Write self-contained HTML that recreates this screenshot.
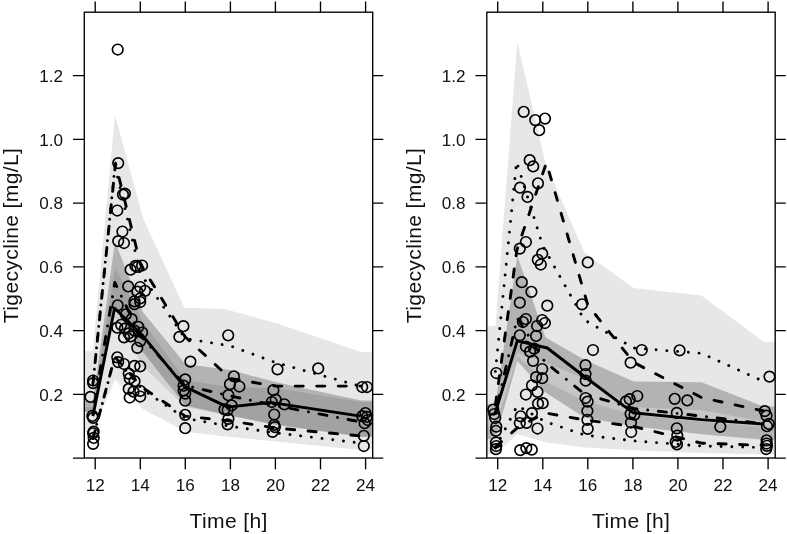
<!DOCTYPE html>
<html lang="en"><head><meta charset="utf-8"><title>Tigecycline VPC</title>
<style>html,body{margin:0;padding:0;background:#fff}body{width:787px;height:534px;overflow:hidden}</style></head>
<body>
<svg width="787" height="534" viewBox="0 0 787 534" style="display:block">
<rect width="787" height="534" fill="#fff"/>
<clipPath id="c0"><rect x="84.3" y="12.2" width="288.4" height="445.8"/></clipPath>
<g clip-path="url(#c0)">
<polygon points="83.9,350.7 92.9,350.7 115.0,114.9 143.0,218.1 184.4,307.7 224.7,309.0 276.6,323.3 361.1,352.0 374.6,352.0 374.6,436.0 361.1,436.0 275.4,424.7 230.4,415.8 185.3,407.1 142.5,365.7 115.0,317.9 92.9,411.9 83.9,411.9" fill="#000" fill-opacity="0.095"/>
<polygon points="83.9,407.1 92.9,407.1 115.0,266.9 142.5,321.1 185.3,380.1 230.4,387.2 275.4,388.1 361.1,402.0 374.6,402.0 374.6,449.9 361.1,449.9 275.4,441.4 230.4,437.1 185.3,431.7 142.5,408.7 115.0,379.4 92.9,432.0 83.9,432.0" fill="#000" fill-opacity="0.095"/>
<polygon points="83.9,400.8 92.9,400.8 115.0,241.4 142.5,311.5 185.3,364.0 230.4,370.0 275.4,382.1 361.1,400.6 374.6,400.6 374.6,437.1 361.1,437.1 275.4,424.7 230.4,415.8 185.3,405.6 142.5,351.4 115.0,307.7 92.9,411.9 83.9,411.9" fill="#000" fill-opacity="0.225"/>
<polyline points="92.9,416.1 114.6,308.3 142.5,335.4 184.2,386.4 227.7,407.1 270.0,402.4 360.6,416.1" fill="none" stroke="#000" stroke-width="2.9" stroke-linecap="butt" stroke-linejoin="round"/>
<polyline points="92.9,384.0 115.5,163.3 140.3,263.7 185.3,337.0 230.4,378.5 275.4,386.1 361.1,386.1" fill="none" stroke="#000" stroke-width="2.9" stroke-linecap="round" stroke-linejoin="round" stroke-dasharray="8.07 13.45" stroke-dashoffset="0"/>
<polyline points="92.9,438.6 114.8,356.8 142.5,387.7 185.3,416.1 230.4,421.0 275.4,428.0 358.8,435.8" fill="none" stroke="#000" stroke-width="2.9" stroke-linecap="round" stroke-linejoin="round" stroke-dasharray="8.07 13.45" stroke-dashoffset="0"/>
<polyline points="92.9,413.5 114.8,282.5 140.3,335.4 185.3,385.5 230.4,396.0 275.4,405.6 358.8,421.5" fill="none" stroke="#000" stroke-width="2.9" stroke-linecap="round" stroke-linejoin="round" stroke-dasharray="0.01 10.76 8.07 10.76" stroke-dashoffset="0"/>
<polyline points="92.9,384.0 115.0,166.2 140.3,273.3 185.3,338.6 230.4,345.9 275.4,362.5 361.1,386.4" fill="none" stroke="#000" stroke-width="2.9" stroke-linecap="round" stroke-linejoin="round" stroke-dasharray="0.01 10.76" stroke-dashoffset="6.725"/>
<polyline points="92.9,438.6 114.8,357.4 142.5,389.6 185.3,418.3 230.4,426.3 275.4,432.8 358.8,442.8" fill="none" stroke="#000" stroke-width="2.9" stroke-linecap="round" stroke-linejoin="round" stroke-dasharray="0.01 10.76" stroke-dashoffset="6.725"/>
<g fill="none" stroke="#000" stroke-width="1.65"><circle cx="117.7" cy="49.5" r="5.3"/><circle cx="118.2" cy="163.1" r="5.3"/><circle cx="123.0" cy="194.6" r="5.3"/><circle cx="124.9" cy="193.6" r="5.3"/><circle cx="117.3" cy="210.5" r="5.3"/><circle cx="122.4" cy="231.5" r="5.3"/><circle cx="118.2" cy="241.1" r="5.3"/><circle cx="124.0" cy="243.0" r="5.3"/><circle cx="130.6" cy="269.7" r="5.3"/><circle cx="135.4" cy="265.9" r="5.3"/><circle cx="137.3" cy="266.9" r="5.3"/><circle cx="142.1" cy="265.5" r="5.3"/><circle cx="128.2" cy="286.4" r="5.3"/><circle cx="140.2" cy="287.0" r="5.3"/><circle cx="137.3" cy="291.7" r="5.3"/><circle cx="145.0" cy="290.8" r="5.3"/><circle cx="140.2" cy="298.4" r="5.3"/><circle cx="134.5" cy="301.3" r="5.3"/><circle cx="117.7" cy="305.3" r="5.3"/><circle cx="134.5" cy="304.2" r="5.3"/><circle cx="140.2" cy="302.0" r="5.3"/><circle cx="125.9" cy="314.3" r="5.3"/><circle cx="131.6" cy="319.1" r="5.3"/><circle cx="117.3" cy="327.7" r="5.3"/><circle cx="121.1" cy="324.8" r="5.3"/><circle cx="124.9" cy="328.7" r="5.3"/><circle cx="124.0" cy="337.3" r="5.3"/><circle cx="128.7" cy="333.4" r="5.3"/><circle cx="130.6" cy="336.3" r="5.3"/><circle cx="134.5" cy="330.6" r="5.3"/><circle cx="138.3" cy="326.8" r="5.3"/><circle cx="142.1" cy="332.5" r="5.3"/><circle cx="140.2" cy="341.1" r="5.3"/><circle cx="137.3" cy="347.8" r="5.3"/><circle cx="117.3" cy="357.3" r="5.3"/><circle cx="118.2" cy="362.1" r="5.3"/><circle cx="124.0" cy="364.0" r="5.3"/><circle cx="134.5" cy="365.9" r="5.3"/><circle cx="140.2" cy="366.3" r="5.3"/><circle cx="128.7" cy="373.6" r="5.3"/><circle cx="129.7" cy="378.3" r="5.3"/><circle cx="134.5" cy="381.2" r="5.3"/><circle cx="128.7" cy="388.9" r="5.3"/><circle cx="133.5" cy="391.7" r="5.3"/><circle cx="140.2" cy="390.8" r="5.3"/><circle cx="129.7" cy="397.5" r="5.3"/><circle cx="140.2" cy="396.5" r="5.3"/><circle cx="93.1" cy="380.5" r="5.3"/><circle cx="93.1" cy="383.1" r="5.3"/><circle cx="90.5" cy="396.9" r="5.3"/><circle cx="92.4" cy="415.9" r="5.3"/><circle cx="93.1" cy="417.8" r="5.3"/><circle cx="93.7" cy="431.6" r="5.3"/><circle cx="93.1" cy="433.3" r="5.3"/><circle cx="93.7" cy="437.9" r="5.3"/><circle cx="93.1" cy="443.8" r="5.3"/><circle cx="183.4" cy="326.2" r="5.3"/><circle cx="179.4" cy="336.9" r="5.3"/><circle cx="190.4" cy="361.6" r="5.3"/><circle cx="185.2" cy="379.4" r="5.3"/><circle cx="183.6" cy="385.7" r="5.3"/><circle cx="183.6" cy="390.4" r="5.3"/><circle cx="185.2" cy="393.6" r="5.3"/><circle cx="185.2" cy="400.7" r="5.3"/><circle cx="185.2" cy="414.8" r="5.3"/><circle cx="185.2" cy="428.2" r="5.3"/><circle cx="228.2" cy="335.3" r="5.3"/><circle cx="233.9" cy="376.3" r="5.3"/><circle cx="230.0" cy="384.2" r="5.3"/><circle cx="239.4" cy="386.5" r="5.3"/><circle cx="228.4" cy="395.2" r="5.3"/><circle cx="231.6" cy="405.4" r="5.3"/><circle cx="224.5" cy="409.3" r="5.3"/><circle cx="227.6" cy="410.1" r="5.3"/><circle cx="228.4" cy="418.8" r="5.3"/><circle cx="227.6" cy="424.3" r="5.3"/><circle cx="277.5" cy="369.3" r="5.3"/><circle cx="273.4" cy="390.2" r="5.3"/><circle cx="271.8" cy="402.0" r="5.3"/><circle cx="275.7" cy="399.6" r="5.3"/><circle cx="284.4" cy="404.3" r="5.3"/><circle cx="274.2" cy="414.5" r="5.3"/><circle cx="274.2" cy="424.8" r="5.3"/><circle cx="274.9" cy="427.1" r="5.3"/><circle cx="272.6" cy="431.8" r="5.3"/><circle cx="318.2" cy="368.4" r="5.3"/><circle cx="362.2" cy="387.0" r="5.3"/><circle cx="367.0" cy="387.0" r="5.3"/><circle cx="365.4" cy="413.0" r="5.3"/><circle cx="362.2" cy="416.1" r="5.3"/><circle cx="367.0" cy="416.9" r="5.3"/><circle cx="367.7" cy="420.0" r="5.3"/><circle cx="364.6" cy="423.2" r="5.3"/><circle cx="363.8" cy="435.8" r="5.3"/><circle cx="363.8" cy="446.0" r="5.3"/></g>
</g>
<g fill="none" stroke="#000" stroke-width="1.35">
<rect x="84.3" y="12.2" width="288.4" height="445.8"/>
<path d="M95.2 12.2V1.6 M95.2 458.0V469.2"/>
<path d="M140.3 12.2V1.6 M140.3 458.0V469.2"/>
<path d="M185.3 12.2V1.6 M185.3 458.0V469.2"/>
<path d="M230.4 12.2V1.6 M230.4 458.0V469.2"/>
<path d="M275.4 12.2V1.6 M275.4 458.0V469.2"/>
<path d="M320.5 12.2V1.6 M320.5 458.0V469.2"/>
<path d="M365.6 12.2V1.6 M365.6 458.0V469.2"/>
<path d="M84.3 458.1H73.0 M372.7 458.1H383.3"/>
<path d="M84.3 394.4H73.0 M372.7 394.4H383.3"/>
<path d="M84.3 330.6H73.0 M372.7 330.6H383.3"/>
<path d="M84.3 266.9H73.0 M372.7 266.9H383.3"/>
<path d="M84.3 203.1H73.0 M372.7 203.1H383.3"/>
<path d="M84.3 139.4H73.0 M372.7 139.4H383.3"/>
<path d="M84.3 75.6H73.0 M372.7 75.6H383.3"/>
</g>
<g font-family="'Liberation Sans', sans-serif" font-size="17.1" fill="#111">
<text x="95.2" y="491.3" text-anchor="middle">12</text>
<text x="140.3" y="491.3" text-anchor="middle">14</text>
<text x="185.3" y="491.3" text-anchor="middle">16</text>
<text x="230.4" y="491.3" text-anchor="middle">18</text>
<text x="275.4" y="491.3" text-anchor="middle">20</text>
<text x="320.5" y="491.3" text-anchor="middle">22</text>
<text x="365.6" y="491.3" text-anchor="middle">24</text>
<text x="63.0" y="400.7" text-anchor="end">0.2</text>
<text x="63.0" y="336.9" text-anchor="end">0.4</text>
<text x="63.0" y="273.2" text-anchor="end">0.6</text>
<text x="63.0" y="209.4" text-anchor="end">0.8</text>
<text x="63.0" y="145.7" text-anchor="end">1.0</text>
<text x="63.0" y="81.9" text-anchor="end">1.2</text>
</g>
<g font-family="'Liberation Sans', sans-serif" font-size="21.1" fill="#111">
<text x="228.5" y="528.1" text-anchor="middle" textLength="77.9" lengthAdjust="spacing">Time [h]</text>
<text transform="translate(18.4 235.6) rotate(-90)" text-anchor="middle" textLength="175.2" lengthAdjust="spacing">Tigecycline [mg/L]</text>
</g>
<clipPath id="c1"><rect x="486.8" y="12.2" width="288.4" height="445.8"/></clipPath>
<g clip-path="url(#c1)">
<polygon points="486.4,325.9 495.4,325.9 517.3,41.5 545.5,163.3 584.4,252.6 633.8,287.9 701.6,295.6 763.6,341.8 777.1,341.8 777.1,421.5 763.6,421.5 701.6,410.3 633.8,407.1 584.4,378.5 545.5,362.5 517.3,353.0 495.4,413.5 486.4,413.5" fill="#000" fill-opacity="0.095"/>
<polygon points="486.4,426.3 495.4,426.3 517.3,356.1 545.5,381.6 584.4,400.8 633.8,415.1 701.6,421.5 763.6,426.9 777.1,426.9 777.1,454.5 763.6,454.5 701.6,452.9 633.8,450.2 584.4,447.6 545.5,442.2 517.3,434.2 495.4,454.0 486.4,454.0" fill="#000" fill-opacity="0.095"/>
<polygon points="486.4,404.0 495.4,404.0 517.3,255.7 545.5,337.3 584.4,359.8 633.8,381.6 701.6,382.2 763.6,406.5 777.1,406.5 777.1,439.7 763.6,439.7 701.6,434.3 633.8,426.3 584.4,417.5 545.5,392.6 517.3,360.9 495.4,439.0 486.4,439.0" fill="#000" fill-opacity="0.225"/>
<polyline points="495.4,412.2 517.3,340.8 547.3,348.0 584.4,376.5 632.9,412.7 701.6,419.6 763.6,424.0" fill="none" stroke="#000" stroke-width="2.9" stroke-linecap="butt" stroke-linejoin="round"/>
<polyline points="495.4,404.9 516.9,250.0 546.4,162.7 587.8,305.1 633.8,362.5 701.6,397.6 763.6,411.0" fill="none" stroke="#000" stroke-width="2.9" stroke-linecap="round" stroke-linejoin="round" stroke-dasharray="8.07 13.45" stroke-dashoffset="0"/>
<polyline points="495.4,447.0 517.3,427.9 545.0,412.9 584.4,419.9 633.8,426.5 701.6,443.2 763.6,445.4" fill="none" stroke="#000" stroke-width="2.9" stroke-linecap="round" stroke-linejoin="round" stroke-dasharray="8.07 13.45" stroke-dashoffset="0"/>
<polyline points="495.4,413.5 517.3,317.9 545.0,362.0 584.4,394.0 633.8,408.5 701.6,416.1 763.6,423.7" fill="none" stroke="#000" stroke-width="2.9" stroke-linecap="round" stroke-linejoin="round" stroke-dasharray="0.01 10.76 8.07 10.76" stroke-dashoffset="0"/>
<polyline points="495.4,371.4 516.6,161.7 542.8,246.0 584.4,320.0 633.8,348.0 701.6,353.3 763.6,381.4" fill="none" stroke="#000" stroke-width="2.9" stroke-linecap="round" stroke-linejoin="round" stroke-dasharray="0.01 10.76" stroke-dashoffset="0"/>
<polyline points="495.4,447.9 517.3,405.6 545.0,421.5 584.4,435.0 633.8,440.9 701.6,446.0 763.6,447.6" fill="none" stroke="#000" stroke-width="2.9" stroke-linecap="round" stroke-linejoin="round" stroke-dasharray="0.01 10.76" stroke-dashoffset="0"/>
<g fill="none" stroke="#000" stroke-width="1.65"><circle cx="523.7" cy="111.8" r="5.3"/><circle cx="535.2" cy="120.1" r="5.3"/><circle cx="545.0" cy="118.6" r="5.3"/><circle cx="539.2" cy="130.2" r="5.3"/><circle cx="529.7" cy="160.2" r="5.3"/><circle cx="533.2" cy="166.4" r="5.3"/><circle cx="538.0" cy="183.3" r="5.3"/><circle cx="520.0" cy="187.7" r="5.3"/><circle cx="527.5" cy="196.9" r="5.3"/><circle cx="525.9" cy="242.0" r="5.3"/><circle cx="519.8" cy="248.6" r="5.3"/><circle cx="542.2" cy="253.7" r="5.3"/><circle cx="537.8" cy="259.8" r="5.3"/><circle cx="540.8" cy="264.5" r="5.3"/><circle cx="587.8" cy="262.4" r="5.3"/><circle cx="521.8" cy="282.2" r="5.3"/><circle cx="531.4" cy="291.8" r="5.3"/><circle cx="519.8" cy="302.7" r="5.3"/><circle cx="547.3" cy="305.7" r="5.3"/><circle cx="582.0" cy="304.3" r="5.3"/><circle cx="525.9" cy="319.0" r="5.3"/><circle cx="522.9" cy="322.0" r="5.3"/><circle cx="542.2" cy="320.0" r="5.3"/><circle cx="544.9" cy="323.0" r="5.3"/><circle cx="537.1" cy="326.0" r="5.3"/><circle cx="519.8" cy="335.3" r="5.3"/><circle cx="536.1" cy="335.9" r="5.3"/><circle cx="525.9" cy="346.5" r="5.3"/><circle cx="530.0" cy="351.6" r="5.3"/><circle cx="534.1" cy="348.6" r="5.3"/><circle cx="533.1" cy="360.8" r="5.3"/><circle cx="542.2" cy="369.0" r="5.3"/><circle cx="536.1" cy="377.1" r="5.3"/><circle cx="542.2" cy="378.2" r="5.3"/><circle cx="532.0" cy="385.3" r="5.3"/><circle cx="525.9" cy="394.5" r="5.3"/><circle cx="537.5" cy="391.8" r="5.3"/><circle cx="538.0" cy="403.6" r="5.3"/><circle cx="542.7" cy="403.2" r="5.3"/><circle cx="496.3" cy="373.0" r="5.3"/><circle cx="593.0" cy="350.0" r="5.3"/><circle cx="585.5" cy="365.2" r="5.3"/><circle cx="585.5" cy="374.0" r="5.3"/><circle cx="585.7" cy="380.6" r="5.3"/><circle cx="585.5" cy="398.0" r="5.3"/><circle cx="587.6" cy="401.6" r="5.3"/><circle cx="587.4" cy="411.0" r="5.3"/><circle cx="587.4" cy="419.8" r="5.3"/><circle cx="587.7" cy="428.8" r="5.3"/><circle cx="630.6" cy="362.7" r="5.3"/><circle cx="641.8" cy="350.0" r="5.3"/><circle cx="679.6" cy="350.3" r="5.3"/><circle cx="637.3" cy="396.0" r="5.3"/><circle cx="629.7" cy="399.2" r="5.3"/><circle cx="626.0" cy="401.4" r="5.3"/><circle cx="634.5" cy="414.6" r="5.3"/><circle cx="630.6" cy="413.8" r="5.3"/><circle cx="631.0" cy="422.5" r="5.3"/><circle cx="631.2" cy="432.0" r="5.3"/><circle cx="531.9" cy="413.2" r="5.3"/><circle cx="520.7" cy="416.3" r="5.3"/><circle cx="519.8" cy="423.0" r="5.3"/><circle cx="526.5" cy="422.8" r="5.3"/><circle cx="537.5" cy="428.5" r="5.3"/><circle cx="520.2" cy="450.1" r="5.3"/><circle cx="526.3" cy="448.1" r="5.3"/><circle cx="531.8" cy="449.7" r="5.3"/><circle cx="493.3" cy="409.5" r="5.3"/><circle cx="494.3" cy="414.0" r="5.3"/><circle cx="495.2" cy="418.0" r="5.3"/><circle cx="496.3" cy="426.7" r="5.3"/><circle cx="495.9" cy="430.8" r="5.3"/><circle cx="495.9" cy="442.5" r="5.3"/><circle cx="496.3" cy="446.0" r="5.3"/><circle cx="495.9" cy="449.2" r="5.3"/><circle cx="674.7" cy="398.8" r="5.3"/><circle cx="687.3" cy="400.4" r="5.3"/><circle cx="676.8" cy="412.9" r="5.3"/><circle cx="676.8" cy="428.3" r="5.3"/><circle cx="677.3" cy="435.6" r="5.3"/><circle cx="675.7" cy="441.9" r="5.3"/><circle cx="677.0" cy="444.3" r="5.3"/><circle cx="720.3" cy="426.8" r="5.3"/><circle cx="769.5" cy="376.6" r="5.3"/><circle cx="764.8" cy="411.1" r="5.3"/><circle cx="766.5" cy="415.7" r="5.3"/><circle cx="768.8" cy="423.9" r="5.3"/><circle cx="767.0" cy="426.2" r="5.3"/><circle cx="766.6" cy="440.3" r="5.3"/><circle cx="766.6" cy="443.5" r="5.3"/><circle cx="767.0" cy="445.8" r="5.3"/><circle cx="766.2" cy="449.0" r="5.3"/></g>
</g>
<g fill="none" stroke="#000" stroke-width="1.35">
<rect x="486.8" y="12.2" width="288.4" height="445.8"/>
<path d="M497.7 12.2V1.6 M497.7 458.0V469.2"/>
<path d="M542.8 12.2V1.6 M542.8 458.0V469.2"/>
<path d="M587.8 12.2V1.6 M587.8 458.0V469.2"/>
<path d="M632.9 12.2V1.6 M632.9 458.0V469.2"/>
<path d="M677.9 12.2V1.6 M677.9 458.0V469.2"/>
<path d="M723.0 12.2V1.6 M723.0 458.0V469.2"/>
<path d="M768.1 12.2V1.6 M768.1 458.0V469.2"/>
<path d="M486.8 458.1H475.5 M775.2 458.1H785.8"/>
<path d="M486.8 394.4H475.5 M775.2 394.4H785.8"/>
<path d="M486.8 330.6H475.5 M775.2 330.6H785.8"/>
<path d="M486.8 266.9H475.5 M775.2 266.9H785.8"/>
<path d="M486.8 203.1H475.5 M775.2 203.1H785.8"/>
<path d="M486.8 139.4H475.5 M775.2 139.4H785.8"/>
<path d="M486.8 75.6H475.5 M775.2 75.6H785.8"/>
</g>
<g font-family="'Liberation Sans', sans-serif" font-size="17.1" fill="#111">
<text x="497.7" y="491.3" text-anchor="middle">12</text>
<text x="542.8" y="491.3" text-anchor="middle">14</text>
<text x="587.8" y="491.3" text-anchor="middle">16</text>
<text x="632.9" y="491.3" text-anchor="middle">18</text>
<text x="677.9" y="491.3" text-anchor="middle">20</text>
<text x="723.0" y="491.3" text-anchor="middle">22</text>
<text x="768.1" y="491.3" text-anchor="middle">24</text>
<text x="465.5" y="400.7" text-anchor="end">0.2</text>
<text x="465.5" y="336.9" text-anchor="end">0.4</text>
<text x="465.5" y="273.2" text-anchor="end">0.6</text>
<text x="465.5" y="209.4" text-anchor="end">0.8</text>
<text x="465.5" y="145.7" text-anchor="end">1.0</text>
<text x="465.5" y="81.9" text-anchor="end">1.2</text>
</g>
<g font-family="'Liberation Sans', sans-serif" font-size="21.1" fill="#111">
<text x="631.0" y="528.1" text-anchor="middle" textLength="77.9" lengthAdjust="spacing">Time [h]</text>
<text transform="translate(420.9 235.6) rotate(-90)" text-anchor="middle" textLength="175.2" lengthAdjust="spacing">Tigecycline [mg/L]</text>
</g>
</svg>
</body></html>
